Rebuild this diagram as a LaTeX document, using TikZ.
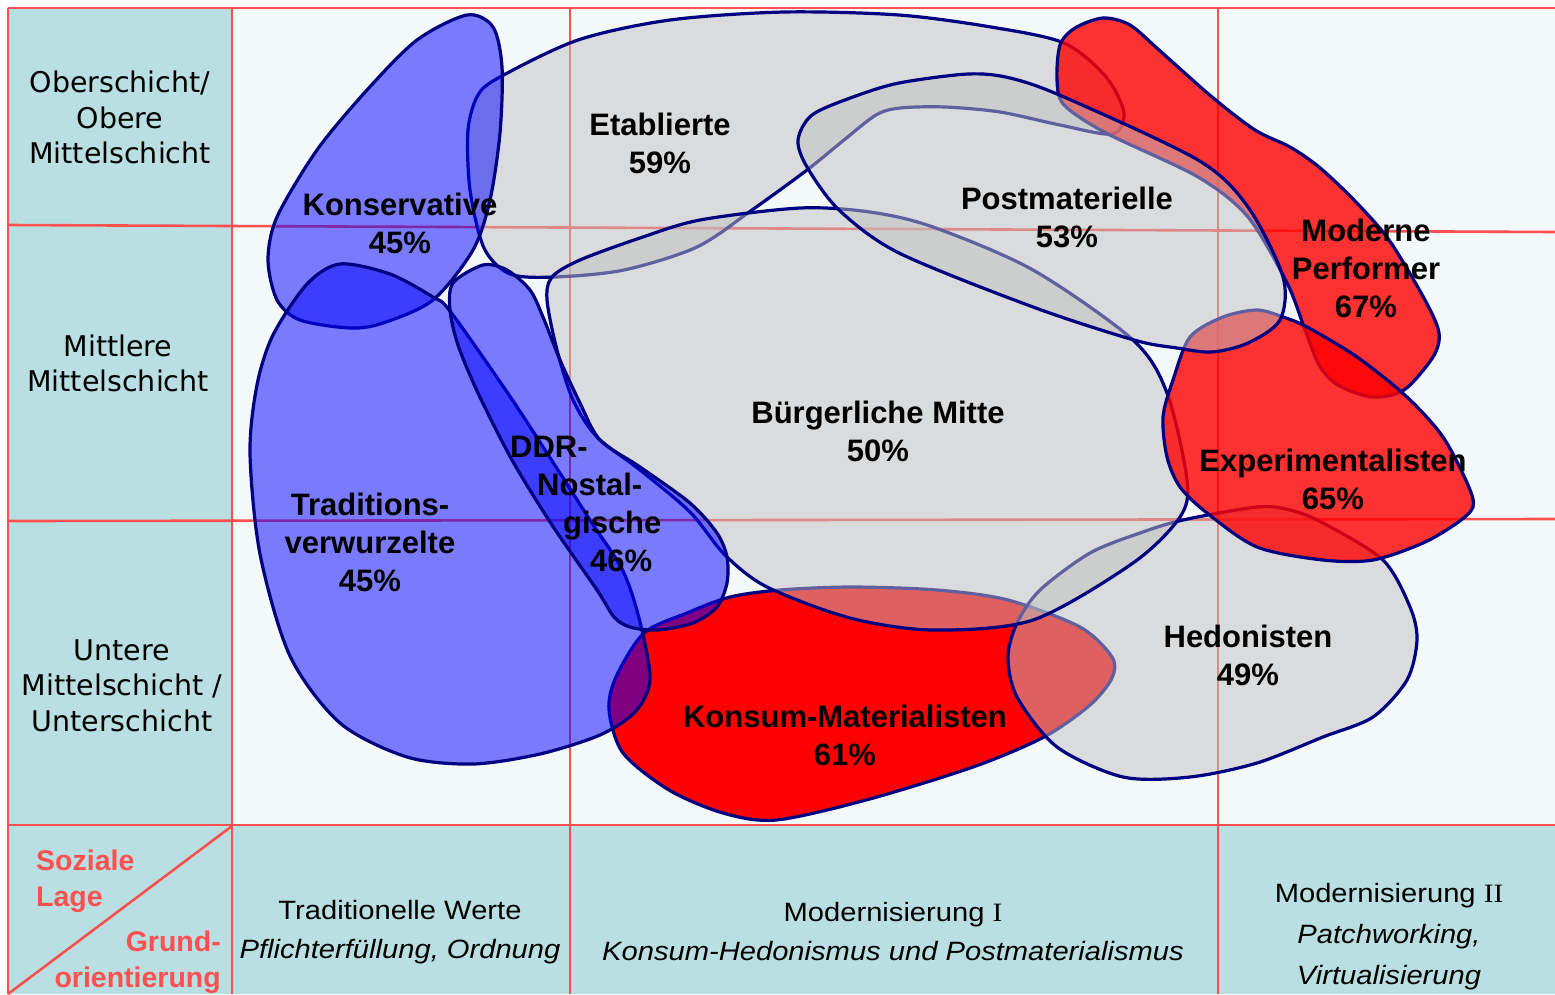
\documentclass[tikz,border=0pt]{standalone}
\usepackage{fontspec}
\setmainfont{Liberation Sans}
\newfontfamily\verdfont{DejaVu Sans}
\newfontfamily\romfont{Liberation Serif}
\definecolor{cellteal}{RGB}{185,223,227}
\definecolor{cellbg}{RGB}{243,248,249}
\definecolor{gridred}{RGB}{255,80,80}
\definecolor{outline}{RGB}{0,0,128}
\definecolor{milieugray}{RGB}{192,192,192}
\newcommand\wideline[1]{\scalebox{1.1}[1]{#1}}
\begin{document}
\begin{tikzpicture}[x=1pt,y=-1pt,
  gridline/.style={draw=gridred, line width=2.6pt},
  milieu/.style={draw=outline, line width=3.2pt},
  graymilieu/.style={milieu, fill=milieugray, fill opacity=0.5},
  redmilieu/.style={milieu, fill=red, fill opacity=0.8},
  solidred/.style={milieu, fill=red},
  bluemilieu/.style={milieu, fill=blue, fill opacity=0.5},
  lbl/.style={font=\bfseries\fontsize{31}{38}\selectfont, align=center, inner sep=0pt, text=black},
  layer/.style={font=\verdfont\fontsize{28.5}{35.5}\selectfont, align=center, inner sep=0pt},
  axis/.style={font=\fontsize{26.5}{39}\selectfont, align=center, inner sep=0pt},
  corner/.style={font=\bfseries\fontsize{28.5}{36}\selectfont, text=gridred, inner sep=0pt}
]
\useasboundingbox (0,0) rectangle (1555,994);

% cells
\fill[white] (0,0) rectangle (1555,994);
\fill[cellbg] (232,8) rectangle (1555,825);
\fill[cellteal] (8,8) rectangle (232,994);
\fill[cellteal] (232,825) rectangle (1555,994);

% grid
\draw[gridline] (8,8) -- (1555,8);
\draw[gridline] (8,225) -- (1555,232);
\draw[gridline] (8,521) -- (1555,519);
\draw[gridline] (8,825) -- (1555,825);
\draw[gridline] (8,8) -- (8,994);
\draw[gridline] (232,8) -- (232,994);
\draw[gridline] (570,8) -- (570,994);
\draw[gridline] (1218,8) -- (1218,994);
\draw[gridline] (232,826) -- (8,994);

% milieus, back to front
\draw[graymilieu] plot[smooth cycle] coordinates {(500,77) (578,40) (670,20) (784,12) (899,15) (991,27) (1064,43) (1106,77) (1124,113) (1112,134) (1060,125) (1000,112) (945,107) (900,108) (876,115) (844,140) (807,170) (752,210) (697,247) (624,270) (555,277) (510,274) (484,248) (470,190) (468,130) (478,95)};
\draw[redmilieu] plot[smooth cycle] coordinates {(1060,45) (1075,28) (1103,18) (1130,25) (1159,50) (1212,97) (1255,130) (1290,147) (1319,167) (1354,200) (1389,240) (1425,300) (1439,333) (1433,357) (1404,390) (1372,397) (1338,385) (1319,365) (1304,327) (1287,283) (1248,217) (1198,177) (1106,133) (1064,105) (1057,80)};
\draw[solidred] plot[smooth cycle] coordinates {(644,633) (687,613) (730,597) (780,590) (851,587) (937,590) (1008,600) (1080,627) (1112,657) (1112,678) (1090,705) (1044,737) (973,767) (866,800) (776,820) (723,813) (669,790) (623,753) (609,710) (616,677)};
\draw[graymilieu] plot[smooth cycle] coordinates {(1040,590) (1090,553) (1140,533) (1183,520) (1257,507) (1290,510) (1323,523) (1383,560) (1410,607) (1417,640) (1407,680) (1373,717) (1323,737) (1257,763) (1190,777) (1123,777) (1057,747) (1017,697) (1008,657) (1017,623)};
\draw[graymilieu] plot[smooth cycle] coordinates {(547,300) (552,277) (580,260) (640,238) (700,220) (800,208) (870,212) (933,227) (1033,270) (1133,340) (1167,393) (1187,480) (1180,517) (1133,563) (1033,620) (933,630) (850,618) (767,587) (725,555) (690,512) (640,470) (597,437) (573,400) (557,350)};
\draw[redmilieu] plot[smooth cycle] coordinates {(1173,380) (1190,337) (1223,317) (1257,310) (1283,317) (1307,327) (1357,357) (1407,397) (1443,437) (1468,485) (1473,507) (1457,523) (1423,543) (1373,560) (1323,560) (1257,547) (1207,513) (1180,487) (1167,457) (1163,417)};
\draw[graymilieu] plot[smooth cycle] coordinates {(798,140) (812,115) (853,97) (899,83) (968,74) (1010,78) (1064,97) (1198,160) (1248,207) (1283,277) (1280,320) (1248,343) (1212,352) (1177,348) (1134,340) (1033,307) (899,253) (839,210) (807,167)};
\draw[bluemilieu] plot[smooth cycle] coordinates {(467,15) (493,27) (502,67) (500,133) (490,200) (473,250) (433,300) (383,323) (350,328) (300,320) (277,300) (268,260) (277,217) (317,150) (367,90) (417,40)};
\draw[bluemilieu] plot[smooth cycle] coordinates {(340,264) (390,274) (433,297) (450,311) (507,392) (547,453) (590,520) (623,571) (640,622) (650,680) (635,712) (600,735) (540,754) (473,764) (407,757) (340,723) (290,656) (260,554) (250,453) (257,385) (273,335) (307,284)};
\draw[bluemilieu] plot[smooth cycle] coordinates {(450,310) (453,283) (483,265) (507,270) (530,290) (543,317) (560,360) (580,403) (600,440) (640,467) (690,503) (717,533) (727,557) (727,583) (717,607) (693,623) (657,630) (630,627) (614,617) (597,590) (552,525) (512,460) (478,393) (458,345)};

% milieu labels
\node[lbl] (konservative) at (400,223.5) {Konservative\\45\%};
\node[lbl] (etablierte) at (660,143.5) {Etablierte\\59\%};
\node[lbl] (postmaterielle) at (1067,217.5) {Postmaterielle\\53\%};
\node[lbl] (performer) at (1366,268) {Moderne\\Performer\\67\%};
\node[lbl] (mitte) at (878,431) {Bürgerliche Mitte\\50\%};
\node[lbl] (experimentalisten) at (1333,479) {Experimentalisten\\65\%};
\node[lbl] (traditionsverwurzelte) at (370,542) {Traditions-\\verwurzelte\\45\%};
\node[lbl, align=left, anchor=west] (ddr) at (510,504) {DDR-\\\hspace*{27pt}Nostal-\\\hspace*{53pt}gische\\\hspace*{80pt}46\%};
\node[lbl] (hedonisten) at (1248,655) {Hedonisten\\49\%};
\node[lbl] (konsum) at (845,735) {Konsum-Materialisten\\61\%};

% social layers
\node[layer] (oben) at (120,117.5) {Oberschicht/\\Obere\\Mittelschicht};
\node[layer] (mittel) at (118,363.5) {Mittlere\\Mittelschicht};
\node[layer] (unten) at (122,685.5) {Untere\\Mittelschicht /\\Unterschicht};

% corner cell
\node[corner, align=left, anchor=west] (lage) at (36,881) {Soziale\\Lage};
\node[corner, align=right, anchor=east] (grund) at (221,962) {Grund-\\orientierung};

% basic orientations
\node[axis] (tradition) at (400,932) {\wideline{Traditionelle Werte}\\\wideline{\itshape Pflichterfüllung, Ordnung}};
\node[axis] (modI) at (893,932) {\wideline{Modernisierung {\romfont I}}\\\wideline{\itshape Konsum-Hedonismus und Postmaterialismus}};
\node[axis, font=\fontsize{26.5}{41}\selectfont] (modII) at (1389,937) {\wideline{Modernisierung {\romfont II}}\\\wideline{\itshape Patchworking,}\\\wideline{\itshape Virtualisierung}};
\end{tikzpicture}
\end{document}
